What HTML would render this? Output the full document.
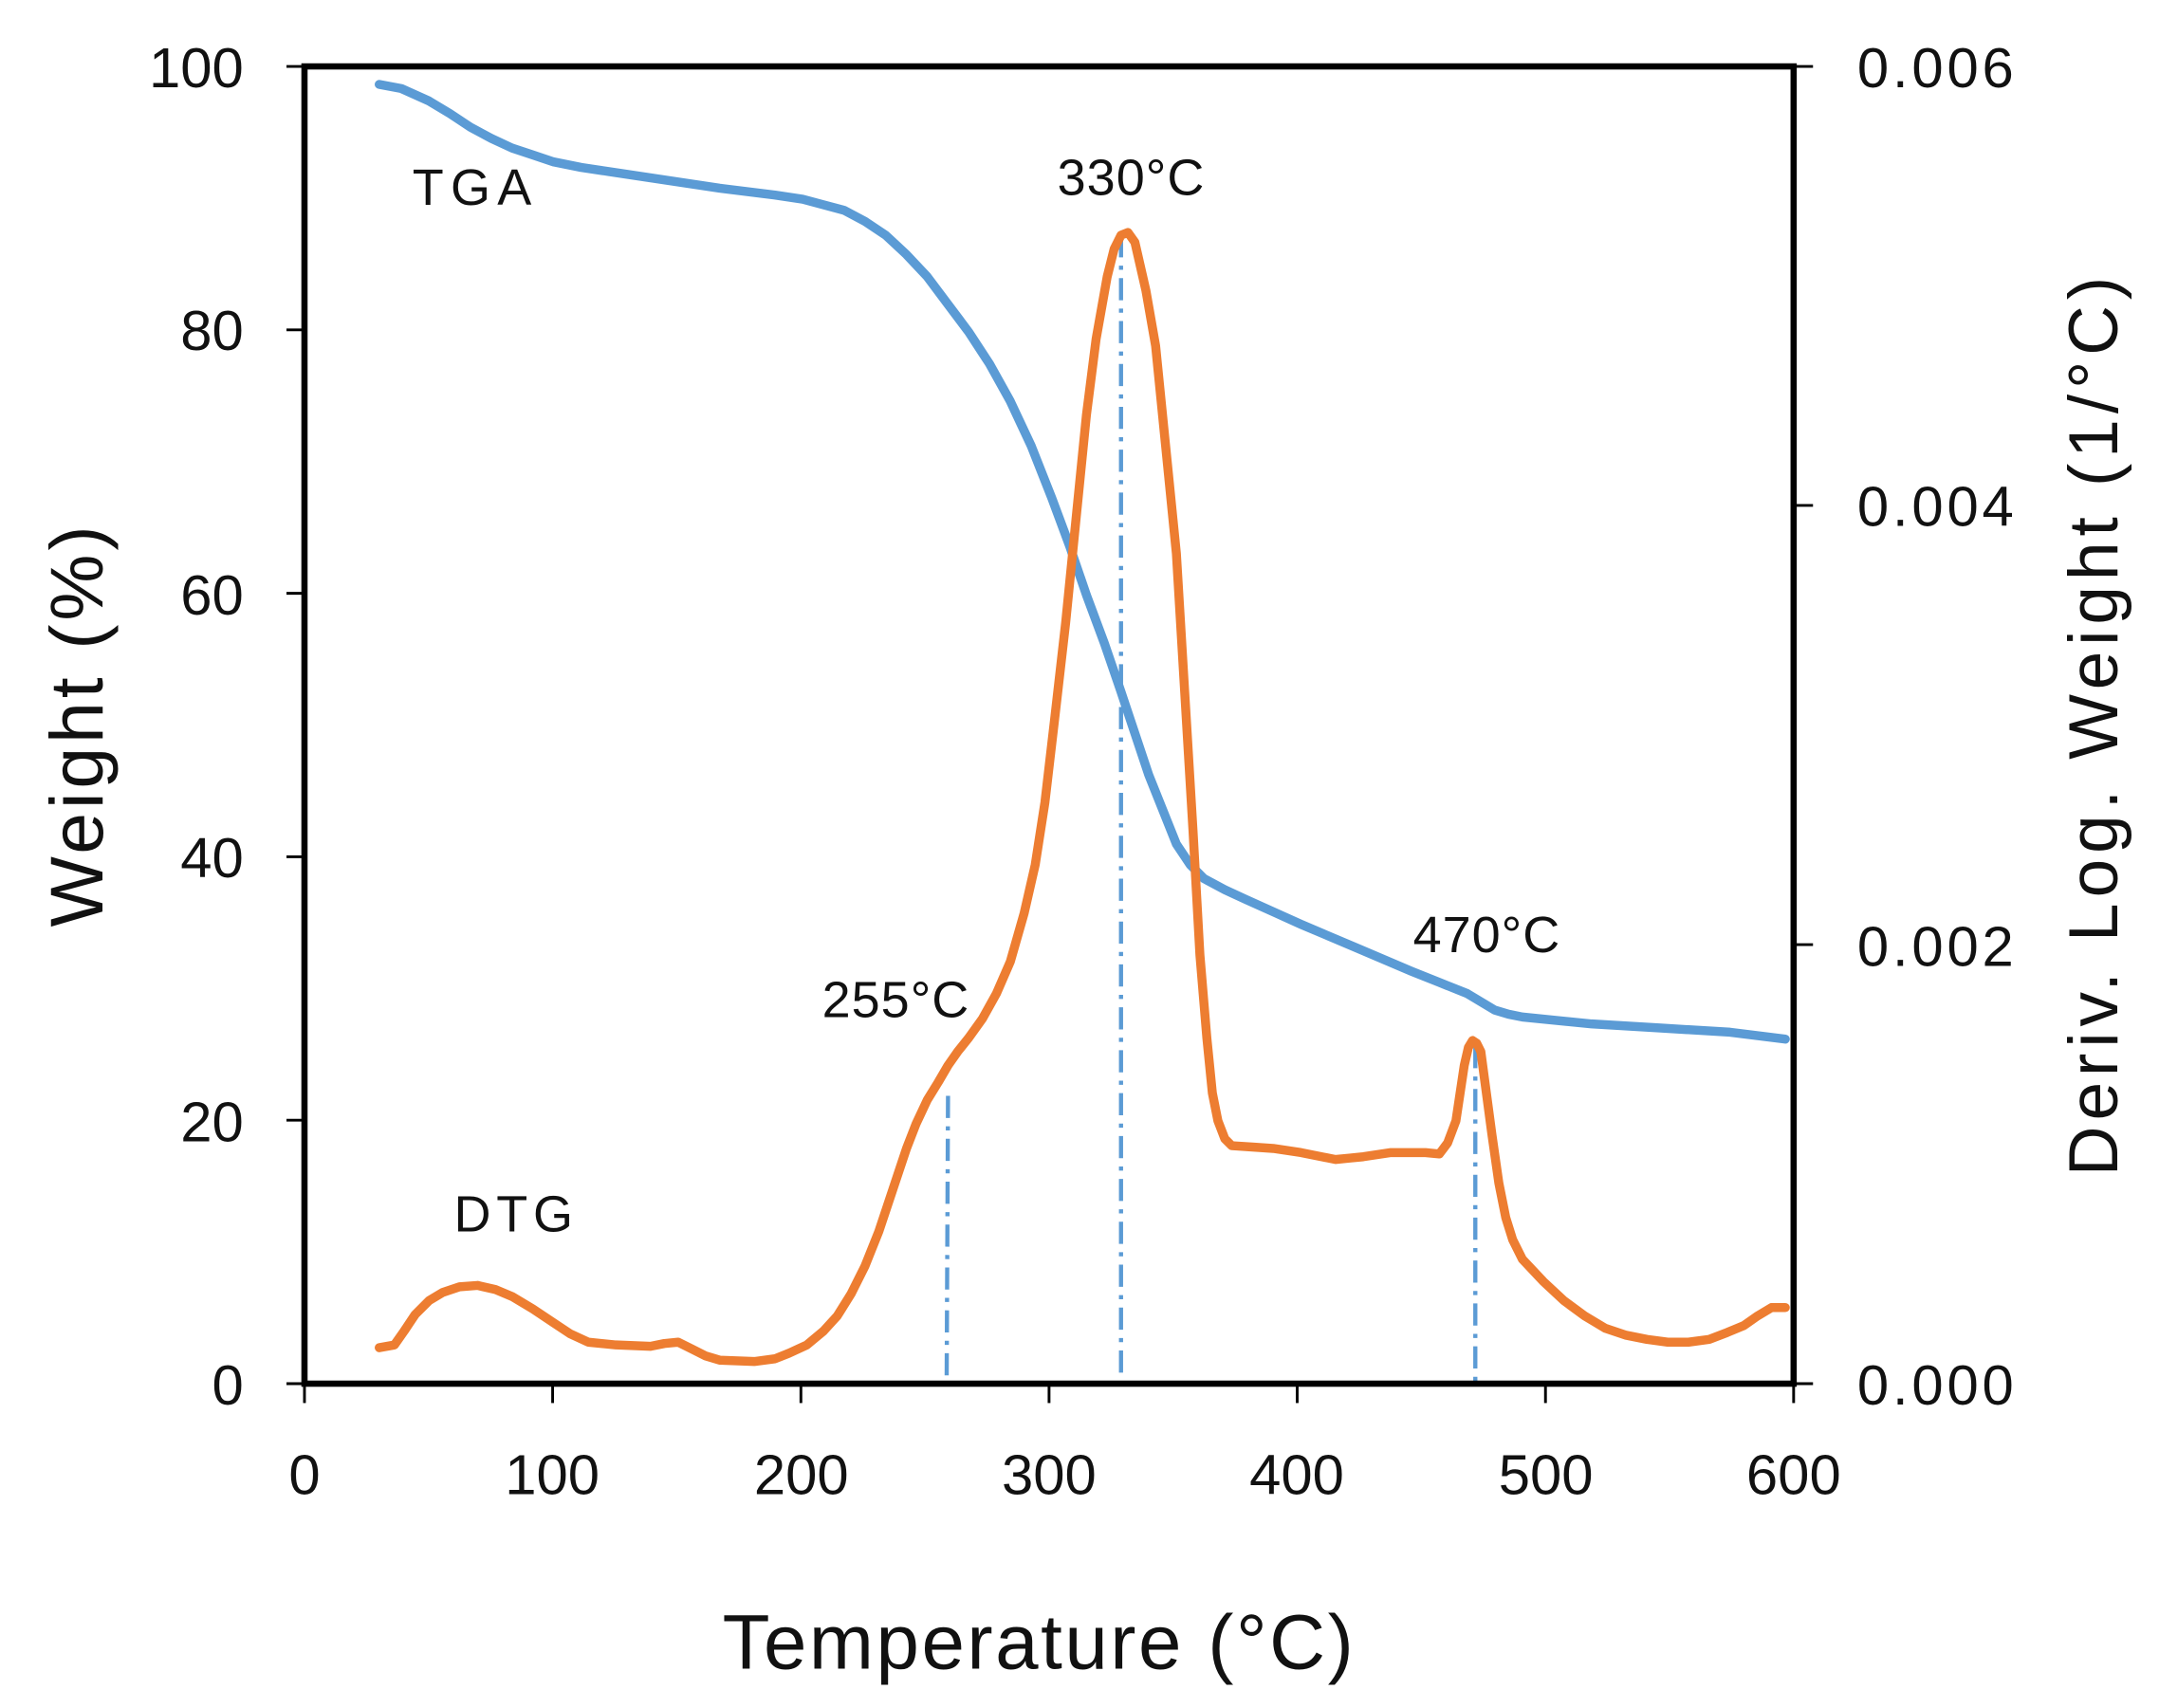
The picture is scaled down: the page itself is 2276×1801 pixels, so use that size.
<!DOCTYPE html>
<html><head><meta charset="utf-8"><style>html,body{margin:0;padding:0;background:#fff}svg{display:block}</style></head>
<body>
<svg width="2276" height="1801" viewBox="0 0 1560 1234.4" preserveAspectRatio="none" xmlns="http://www.w3.org/2000/svg" font-family="Liberation Sans, sans-serif">
<rect x="0" y="0" width="1560" height="1235" fill="#fff"/>
<g stroke="#5b9bd5" stroke-width="3" stroke-dasharray="16,6,3,6" fill="none">
<line x1="685" y1="792" x2="684" y2="1000"/>
<line x1="810" y1="170" x2="810" y2="1000"/>
<line x1="1066" y1="756" x2="1066" y2="1000"/>
</g>
<polyline fill="none" stroke="#5b9bd5" stroke-width="6.5" stroke-linecap="round" stroke-linejoin="round"
points="274,61 290,64 310,73 325,82 340,92 355,100 370,107 385,112 400,117 420,121 440,124 480,130 520,136 560,141 580,144 595,148 610,152 625,160 640,170 655,184 670,200 685,220 700,240 715,263 730,290 745,322 760,360 773,395 785,430 798,465 810,500 820,530 830,560 840,585 850,610 860,625 870,635 885,643 900,650 920,659 940,668 980,685 1020,702 1040,710 1060,718 1070,724 1080,730 1090,733 1100,735 1150,740 1200,743 1250,746 1290,751"/>
<polyline fill="none" stroke="#ed7d31" stroke-width="6.5" stroke-linecap="round" stroke-linejoin="round"
points="274,974 285,972 292,962 300,950 310,940 320,934 332,930 345,929 358,932 370,937 385,946 400,956 412,964 425,970 445,972 470,973 480,971 490,970 500,975 510,980 520,983 545,984 560,982 570,978 583,972 595,962 605,951 615,935 625,915 635,890 645,860 655,830 662,812 670,795 678,782 685,770 692,760 700,750 710,736 720,718 730,695 740,660 748,625 755,580 762,520 770,450 778,370 785,300 792,245 800,200 805,180 810,170 815,168 820,175 828,210 835,250 842,320 850,400 856,500 862,600 867,690 872,750 876,790 880,810 885,823 890,828 905,829 920,830 940,833 955,836 965,838 975,837 985,836 1005,833 1030,833 1040,834 1046,826 1052,810 1055,790 1058,770 1061,757 1064,752 1067,754 1070,760 1074,790 1078,820 1083,855 1088,880 1093,896 1100,910 1115,926 1130,940 1145,951 1160,960 1175,965 1190,968 1205,970 1220,970 1235,968 1248,963 1260,958 1270,951 1280,945 1290,945"/>
<rect x="220" y="48" width="1076" height="952" fill="none" stroke="#000" stroke-width="4.5"/>
<g stroke="#000" stroke-width="2">
<line x1="207" y1="48" x2="220" y2="48"/><line x1="207" y1="238.4" x2="220" y2="238.4"/><line x1="207" y1="428.8" x2="220" y2="428.8"/><line x1="207" y1="619.2" x2="220" y2="619.2"/><line x1="207" y1="809.6" x2="220" y2="809.6"/><line x1="207" y1="1000" x2="220" y2="1000"/>
<line x1="1296" y1="48" x2="1310" y2="48"/><line x1="1296" y1="365.3" x2="1310" y2="365.3"/><line x1="1296" y1="682.7" x2="1310" y2="682.7"/><line x1="1296" y1="1000" x2="1310" y2="1000"/>
<line x1="220" y1="1000" x2="220" y2="1014"/><line x1="399.3" y1="1000" x2="399.3" y2="1014"/><line x1="578.7" y1="1000" x2="578.7" y2="1014"/><line x1="758" y1="1000" x2="758" y2="1014"/><line x1="937.3" y1="1000" x2="937.3" y2="1014"/><line x1="1116.7" y1="1000" x2="1116.7" y2="1014"/><line x1="1296" y1="1000" x2="1296" y2="1014"/>
</g>
<g font-size="41" fill="#111" text-anchor="end">
<text x="176" y="63">100</text><text x="176" y="253">80</text><text x="176" y="444">60</text><text x="176" y="634">40</text><text x="176" y="825">20</text><text x="176" y="1015">0</text>
</g>
<g font-size="41" fill="#111">
<text x="1342" y="63" textLength="113">0.006</text><text x="1342" y="380" textLength="113">0.004</text><text x="1342" y="698" textLength="113">0.002</text><text x="1342" y="1015" textLength="113">0.000</text>
</g>
<g font-size="41" fill="#111" text-anchor="middle">
<text x="220" y="1080">0</text><text x="399" y="1080">100</text><text x="579" y="1080">200</text><text x="758" y="1080">300</text><text x="937" y="1080">400</text><text x="1117" y="1080">500</text><text x="1296" y="1080">600</text>
</g>
<g font-size="37" fill="#111">
<text x="298" y="148" textLength="86">TGA</text>
<text x="764" y="141" textLength="106">330°C</text>
<text x="594" y="735" textLength="106">255°C</text>
<text x="1021" y="688" textLength="106">470°C</text>
<text x="328" y="890" textLength="86">DTG</text>
</g>
<text x="522" y="1206" font-size="56" fill="#111" textLength="456">Temperature (°C)</text>
<text transform="translate(74,670) rotate(-90)" font-size="54" fill="#111" textLength="290">Weight (%)</text>
<text transform="translate(1530,850) rotate(-90)" font-size="50" fill="#111" textLength="650">Deriv. Log. Weight (1/°C)</text>
</svg>
</body></html>
